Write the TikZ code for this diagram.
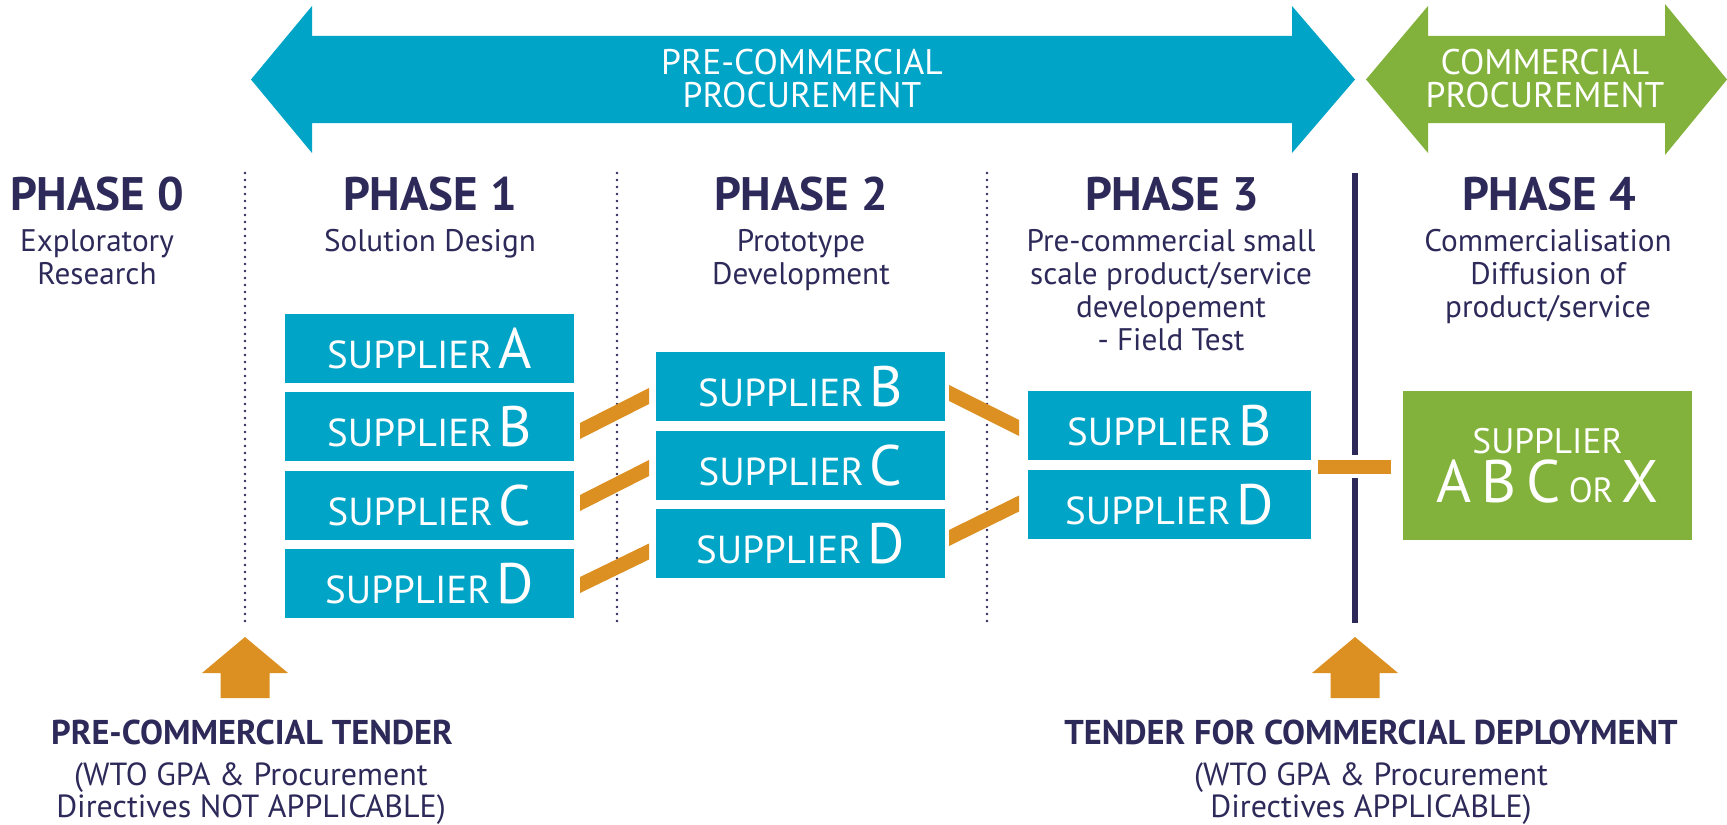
\documentclass[tikz,border=0pt]{standalone}
\usepackage{fontspec}
\setmainfont{PT Sans}
\usetikzlibrary{calc}
\definecolor{pcpblue}{HTML}{00A4C7}
\definecolor{cgreen}{HTML}{83B23C}
\definecolor{org}{HTML}{DB9021}
\definecolor{navy}{HTML}{2D2A5A}
\newcommand\suplbl[1]{{\fontsize{19.5}{21}\selectfont SUPPLIER}\hspace{3pt}{\fontsize{28.5}{30}\selectfont #1}}
\newcommand\band[6]{\fill[org] ($(#1.east)+(#3,#2-8)$) -- ($(#4.west)+(#6,#5-8)$) -- ($(#4.west)+(#6,#5+8)$) -- ($(#1.east)+(#3,#2+8)$) -- cycle;}
\begin{document}
\begin{tikzpicture}[x=0.5pt,y=-0.5pt,
  sup/.style={fill=pcpblue, text=white, minimum width=144.5pt, minimum height=34.5pt, inner sep=0pt, outer sep=0pt},
  phase/.style={anchor=base, text=navy, font=\fontsize{23.5}{25}\selectfont\bfseries, inner sep=0pt},
  sub/.style={anchor=base, text=navy, align=center, font=\fontsize{15.6}{16.5}\selectfont, inner sep=0pt},
  alab/.style={anchor=base, text=white, align=center, font=\fontsize{17.8}{16.5}\selectfont, inner sep=0pt},
  btitle/.style={anchor=base, text=navy, font=\fontsize{17.2}{18}\selectfont\bfseries, inner sep=0pt},
  bsub/.style={anchor=base, text=navy, align=center, font=\fontsize{16}{16}\selectfont, inner sep=0pt},
  dotline/.style={navy, line width=1.3pt, line cap=round, dash pattern=on 0pt off 3.5pt},
  solidline/.style={navy, line width=3pt}
]
\useasboundingbox (0,0) rectangle (1727,824);

% big arrows
\fill[pcpblue] (251,79.5) -- (312,6) -- (312,36) -- (1292,36) -- (1292,6) -- (1355,79.5) -- (1292,153) -- (1292,123) -- (312,123) -- (312,153) -- cycle;
\fill[cgreen] (1366,79.5) -- (1428,6) -- (1428,36) -- (1665,36) -- (1665,4) -- (1727,79.5) -- (1665,155) -- (1665,123) -- (1428,123) -- (1428,153) -- cycle;
% (base anchor of a multi-line node = baseline of its last line)
\node[alab] (pcpl) at (802,107) {PRE-COMMERCIAL\\PROCUREMENT};
\node[alab] (cpl) at (1545,107) {COMMERCIAL\\PROCUREMENT};

% separators
\draw[dotline] (245,173) -- (245,625);
\draw[dotline] (617,173) -- (617,625);
\draw[dotline] (987,173) -- (987,625);
\coordinate (vtop) at (1355,173);
\coordinate (vg1) at (1355,455);
\coordinate (vg2) at (1355,478);
\coordinate (vbot) at (1355,623);
\draw[solidline] (vtop) -- (vg1);
\draw[solidline] (vg2) -- (vbot);

% headings
\node[phase] (h0) at (97,210) {PHASE 0};
\node[phase] (h1) at (430,210) {PHASE 1};
\node[phase] (h2) at (801,210) {PHASE 2};
\node[phase] (h3) at (1172,210) {PHASE 3};
\node[phase] (h4) at (1549,210) {PHASE 4};
\node[sub] (s0) at (97,284) {Exploratory\\Research};
\node[sub] (s1) at (430,251) {Solution Design};
\node[sub] (s2) at (801,284) {Prototype\\Development};
\node[sub] (s3) at (1171,350) {Pre-commercial small\\scale product/service\\developement\\- Field Test};
\node[sub] (s4) at (1548,317) {Commercialisation\\Diffusion of\\product/service};

% supplier boxes
\node[sup] (p1a) at (429.5,348.5) {\suplbl{A}};
\node[sup] (p1b) at (429.5,426.5) {\suplbl{B}};
\node[sup] (p1c) at (429.5,505.5) {\suplbl{C}};
\node[sup] (p1d) at (429.5,583.5) {\suplbl{D}};
\node[sup] (p2b) at (800.5,386.5) {\suplbl{B}};
\node[sup] (p2c) at (800.5,465.5) {\suplbl{C}};
\node[sup] (p2d) at (800.5,543.5) {\suplbl{D}};
\node[sup, minimum width=141.5pt] (p3b) at (1169.5,425.5) {\suplbl{B}};
\node[sup, minimum width=141.5pt] (p3d) at (1169.5,504.5) {\suplbl{D}};
\node[sup, fill=cgreen, minimum height=74.5pt, align=center] (g) at (1547.5,465.5)
  {{\fontsize{17.7}{20}\selectfont SUPPLIER}\\[2pt]{\fontsize{30}{30}\selectfont A\hspace{5pt}B\hspace{5pt}C\hspace{4pt}{\fontsize{17.5}{18}\selectfont OR}\hspace{4pt}X}};

% connectors
\band{p1b}{4.5}{6}{p2b}{9.5}{-7}
\band{p1c}{-2.5}{6}{p2c}{2.5}{-7}
\band{p1d}{1.5}{6}{p2d}{8}{-7}
\band{p2b}{6.5}{4}{p3b}{2.5}{-9}
\band{p2d}{-5.5}{4}{p3d}{-1}{-9}
\fill[org] ($(g.west)+(-85,-5.5)$) rectangle ($(g.west)+(-12,8.5)$);

% up arrows
\foreach \xx in {245,1355}{
  \fill[org] (\xx,637) -- (\xx+43,673) -- (\xx+24.5,673) -- (\xx+24.5,698) -- (\xx-24.5,698) -- (\xx-24.5,673) -- (\xx-43,673) -- cycle;
}

% bottom texts
\node[btitle] (t1) at (252,744) {PRE-COMMERCIAL TENDER};
\node[bsub] (t1s) at (251,817) {(WTO GPA \& Procurement\\Directives NOT APPLICABLE)};
\node[btitle] (t2) at (1371,744) {TENDER FOR COMMERCIAL DEPLOYMENT};
\node[bsub] (t2s) at (1371,817) {(WTO GPA \& Procurement\\Directives APPLICABLE)};
\end{tikzpicture}
\end{document}
